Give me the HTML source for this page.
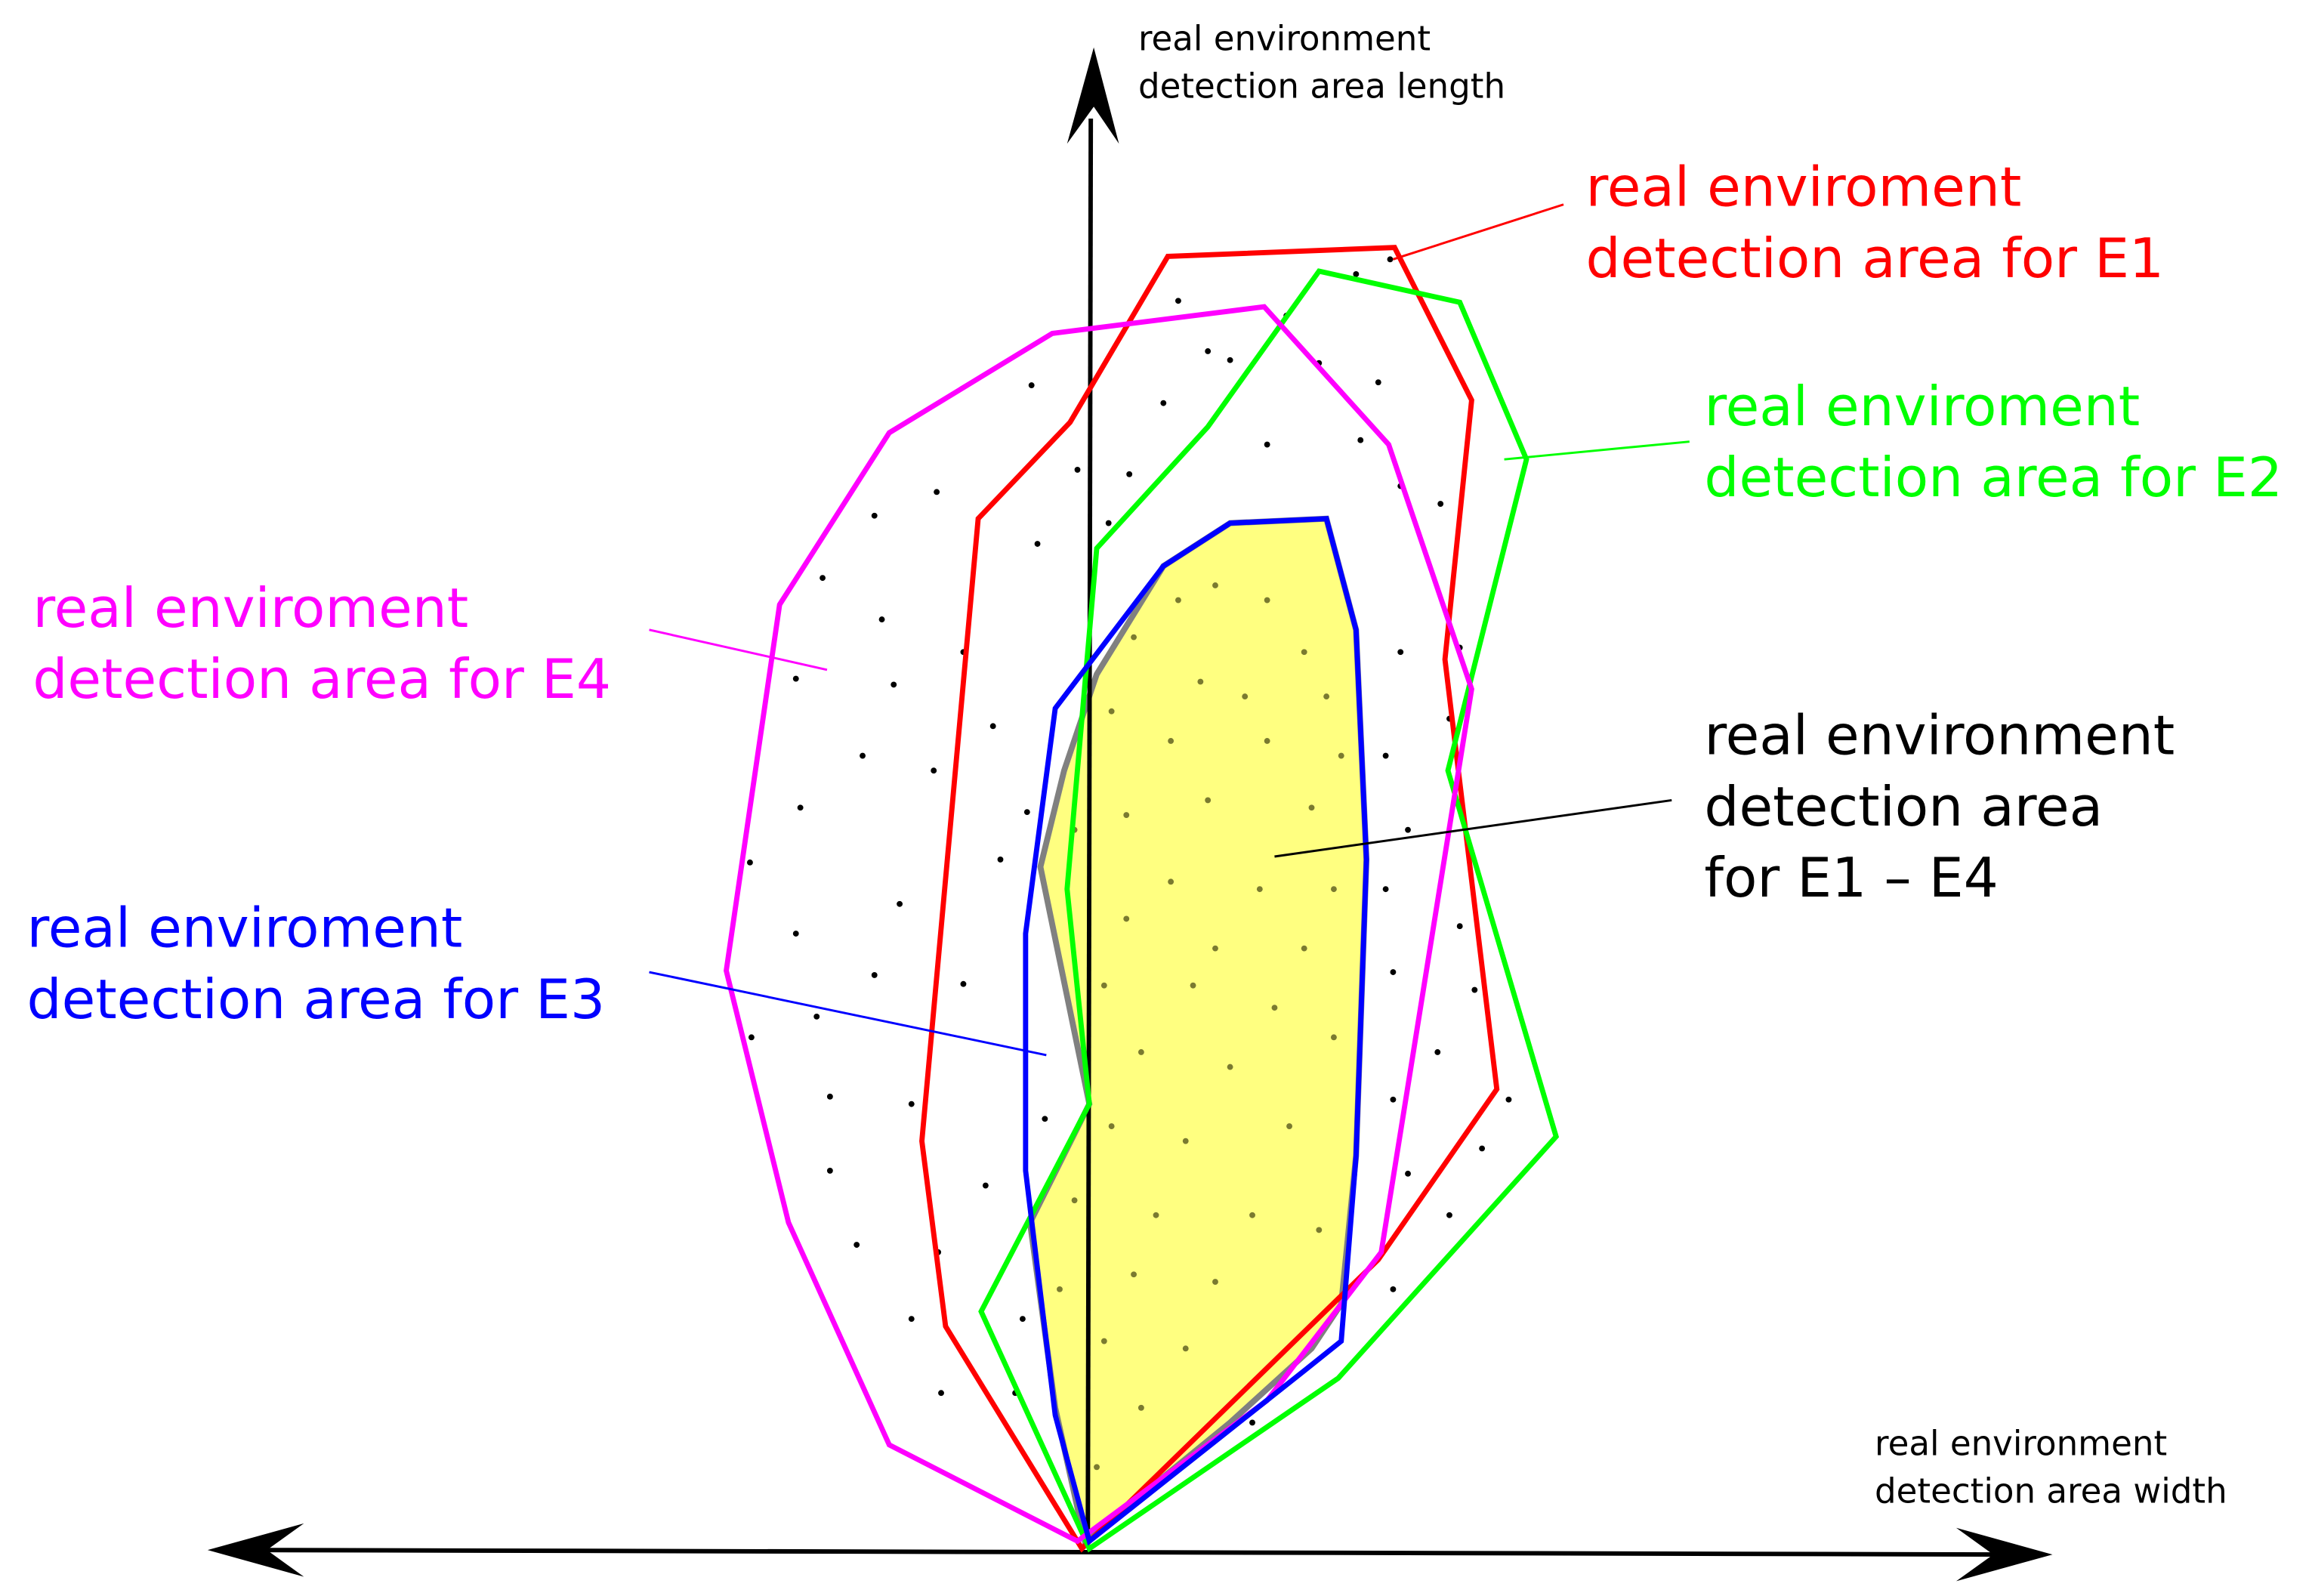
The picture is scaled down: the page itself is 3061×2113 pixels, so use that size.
<!DOCTYPE html>
<html><head><style>html,body{margin:0;padding:0;background:#fff}svg{display:block}</style></head>
<body>
<svg width="3061" height="2113" viewBox="0 0 1560 1077" xmlns="http://www.w3.org/2000/svg" font-family="DejaVu Sans, sans-serif">
<rect width="1560" height="1077" fill="#fff"/>
<!-- yellow area -->
<polygon points="830,353 895,350 915,425 922,580 915,780 905,880 885,910 830,960 732,1040 712,950 695,825 735,745 702,585 718,520 740,455 785,382" fill="#ffff80" stroke="#808080" stroke-width="4"/>
<!-- dots -->
<g fill="#000">
<circle cx="795" cy="203" r="2"/><circle cx="868" cy="213" r="2"/><circle cx="915" cy="185" r="2"/><circle cx="938" cy="175" r="2"/>
<circle cx="815" cy="237" r="2"/><circle cx="830" cy="243" r="2"/><circle cx="890" cy="245" r="2"/><circle cx="930" cy="258" r="2"/>
<circle cx="696" cy="260" r="2"/><circle cx="785" cy="272" r="2"/><circle cx="855" cy="300" r="2"/><circle cx="918" cy="297" r="2"/>
<circle cx="727" cy="317" r="2"/><circle cx="762" cy="320" r="2"/><circle cx="632" cy="332" r="2"/><circle cx="590" cy="348" r="2"/>
<circle cx="700" cy="367" r="2"/><circle cx="748" cy="353" r="2"/><circle cx="945" cy="328" r="2"/><circle cx="972" cy="340" r="2"/>
<circle cx="555" cy="390" r="2"/><circle cx="595" cy="418" r="2"/><circle cx="650" cy="440" r="2"/><circle cx="603" cy="462" r="2"/>
<circle cx="537" cy="458" r="2"/><circle cx="670" cy="490" r="2"/><circle cx="582" cy="510" r="2"/><circle cx="630" cy="520" r="2"/>
<circle cx="540" cy="545" r="2"/><circle cx="693" cy="548" r="2"/><circle cx="607" cy="610" r="2"/><circle cx="506" cy="582" r="2"/>
<circle cx="537" cy="630" r="2"/><circle cx="590" cy="658" r="2"/><circle cx="650" cy="664" r="2"/><circle cx="551" cy="686" r="2"/>
<circle cx="507" cy="700" r="2"/><circle cx="560" cy="740" r="2"/><circle cx="615" cy="745" r="2"/><circle cx="560" cy="790" r="2"/>
<circle cx="665" cy="800" r="2"/><circle cx="578" cy="840" r="2"/><circle cx="633" cy="845" r="2"/><circle cx="615" cy="890" r="2"/>
<circle cx="690" cy="890" r="2"/><circle cx="635" cy="940" r="2"/><circle cx="685" cy="940" r="2"/><circle cx="705" cy="755" r="2"/>
<circle cx="945" cy="440" r="2"/><circle cx="985" cy="437" r="2"/><circle cx="978" cy="485" r="2"/><circle cx="935" cy="510" r="2"/>
<circle cx="950" cy="560" r="2"/><circle cx="935" cy="600" r="2"/><circle cx="985" cy="625" r="2"/><circle cx="940" cy="656" r="2"/>
<circle cx="995" cy="668" r="2"/><circle cx="970" cy="710" r="2"/><circle cx="940" cy="742" r="2"/><circle cx="1018" cy="742" r="2"/>
<circle cx="950" cy="792" r="2"/><circle cx="978" cy="820" r="2"/><circle cx="940" cy="870" r="2"/><circle cx="845" cy="960" r="2"/>
<circle cx="1000" cy="775" r="2"/><circle cx="675" cy="580" r="2"/>
</g>
<g fill="#7a7a30">
<circle cx="795" cy="405" r="2"/><circle cx="820" cy="395" r="2"/><circle cx="855" cy="405" r="2"/><circle cx="880" cy="440" r="2"/>
<circle cx="765" cy="430" r="2"/><circle cx="810" cy="460" r="2"/><circle cx="840" cy="470" r="2"/><circle cx="895" cy="470" r="2"/>
<circle cx="750" cy="480" r="2"/><circle cx="790" cy="500" r="2"/><circle cx="855" cy="500" r="2"/><circle cx="905" cy="510" r="2"/>
<circle cx="760" cy="550" r="2"/><circle cx="815" cy="540" r="2"/><circle cx="885" cy="545" r="2"/><circle cx="725" cy="560" r="2"/>
<circle cx="790" cy="595" r="2"/><circle cx="850" cy="600" r="2"/><circle cx="900" cy="600" r="2"/><circle cx="760" cy="620" r="2"/>
<circle cx="820" cy="640" r="2"/><circle cx="880" cy="640" r="2"/><circle cx="745" cy="665" r="2"/><circle cx="805" cy="665" r="2"/>
<circle cx="860" cy="680" r="2"/><circle cx="900" cy="700" r="2"/><circle cx="770" cy="710" r="2"/><circle cx="830" cy="720" r="2"/>
<circle cx="750" cy="760" r="2"/><circle cx="800" cy="770" r="2"/><circle cx="870" cy="760" r="2"/><circle cx="725" cy="810" r="2"/>
<circle cx="780" cy="820" r="2"/><circle cx="845" cy="820" r="2"/><circle cx="890" cy="830" r="2"/><circle cx="765" cy="860" r="2"/>
<circle cx="820" cy="865" r="2"/><circle cx="745" cy="905" r="2"/><circle cx="800" cy="910" r="2"/><circle cx="770" cy="950" r="2"/>
<circle cx="740" cy="990" r="2"/><circle cx="715" cy="870" r="2"/>
</g>
<!-- axes -->
<line x1="736" y1="80" x2="734" y2="1040" stroke="#000" stroke-width="3"/>
<polygon points="738,32 755,97 738,72 720,97" fill="#000"/>
<line x1="180" y1="1046" x2="1350" y2="1049" stroke="#000" stroke-width="3"/>
<polygon points="140,1046 205,1028 180,1046 205,1064" fill="#000"/>
<polygon points="1385,1049 1320,1031 1345,1049 1320,1067" fill="#000"/>
<!-- polygons -->
<g fill="none" stroke-width="3.5" stroke-linejoin="miter">
<polygon points="788,173 941,167 993,270 975,445 1010,735 930,850 730,1045 638,895 622,770 660,350 722,285" stroke="#ff0000"/>
<polygon points="890,183 985,204 1030,310 977,520 1050,767 903,930 735,1045 662,885 735,745 720,600 740,370 815,288" stroke="#00ff00"/>
<polygon points="710,225 853,207 937,300 993,465 932,845 855,945 727,1040 600,975 532,825 490,655 526,408 600,292" stroke="#ff00ff"/>
<polygon points="830,353 895,350 915,425 922,580 915,780 905,905 880,925 735,1040 712,955 692,790 692,630 712,478 785,382" stroke="#0000ff"/>
</g>
<!-- leader lines -->
<line x1="940" y1="175" x2="1055" y2="138" stroke="#ff0000" stroke-width="1.5"/>
<line x1="1015" y1="310" x2="1140" y2="298" stroke="#00ff00" stroke-width="1.5"/>
<line x1="438" y1="425" x2="558" y2="452" stroke="#ff00ff" stroke-width="1.5"/>
<line x1="438" y1="656" x2="706" y2="712" stroke="#0000ff" stroke-width="1.5"/>
<line x1="860" y1="578" x2="1128" y2="540" stroke="#000" stroke-width="1.5"/>
<!-- labels -->
<g font-size="23" fill="#000">
<text x="768" y="34">real environment</text>
<text x="768" y="66">detection area length</text>
<text x="1265" y="982">real environment</text>
<text x="1265" y="1014">detection area width</text>
</g>
<g font-size="37">
<text x="1070" y="139" fill="#ff0000">real enviroment</text>
<text x="1070" y="187" fill="#ff0000">detection area for E1</text>
<text x="1150" y="287" fill="#00ff00">real enviroment</text>
<text x="1150" y="335" fill="#00ff00">detection area for E2</text>
<text x="22" y="423" fill="#ff00ff">real enviroment</text>
<text x="22" y="471" fill="#ff00ff">detection area for E4</text>
<text x="18" y="639" fill="#0000ff">real enviroment</text>
<text x="18" y="687" fill="#0000ff">detection area for E3</text>
<text x="1150" y="509" fill="#000">real environment</text>
<text x="1150" y="557" fill="#000">detection area</text>
<text x="1150" y="605" fill="#000">for E1 – E4</text>
</g>
</svg>
</body></html>
